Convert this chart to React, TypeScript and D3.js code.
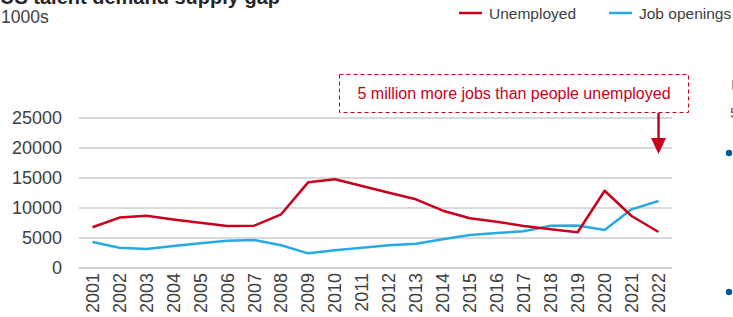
import React, { useEffect, useRef } from "react";
import * as d3 from "d3";

// US talent demand vs supply, thousands
const years = [
  "2001", "2002", "2003", "2004", "2005", "2006", "2007", "2008", "2009", "2010", "2011",
  "2012", "2013", "2014", "2015", "2016", "2017", "2018", "2019", "2020", "2021", "2022",
];
const unemployed = [
  6800, 8400, 8700, 8100, 7550, 7000, 7050, 8950, 14280, 14780, 13670,
  12550, 11450, 9550, 8280, 7720, 7000, 6450, 5950, 12880, 8670, 6000,
];
const jobOpenings = [
  4330, 3390, 3170, 3670, 4110, 4560, 4670, 3780, 2440, 2940, 3390,
  3780, 4050, 4780, 5500, 5830, 6110, 7050, 7080, 6330, 9780, 11170,
];
const yTicks = [0, 5000, 10000, 15000, 20000, 25000];

const RED = "#c8001e";
const BLUE = "#29a9e1";
const FONT = "'Liberation Sans', Arial, sans-serif";

const App = () => {
  const ref = useRef<SVGSVGElement>(null);

  useEffect(() => {
    const svg = d3.select(ref.current);
    svg.selectAll("*").remove();

    const x = d3.scaleBand().domain(years).range([79, 672]);
    const y = d3.scaleLinear().domain([0, 25000]).range([268, 118]);
    const cx = (d: string) => (x(d) as number) + x.bandwidth() / 2;

    // title + unit
    svg.append("text").attr("x", 0).attr("y", 4)
      .attr("font-size", 20).attr("font-weight", "bold").attr("fill", "#262626")
      .text("US talent demand supply gap");
    svg.append("text").attr("x", 1).attr("y", 23)
      .attr("font-size", 17.5).attr("fill", "#404040").text("1000s");

    // gridlines
    svg.append("g").selectAll("line").data(yTicks.filter((t) => t > 0)).enter()
      .append("line")
      .attr("x1", 79).attr("x2", 672)
      .attr("y1", (d) => y(d)).attr("y2", (d) => y(d))
      .attr("stroke", "#d9d9d9").attr("stroke-width", 2);

    // y axis labels
    svg.append("g").selectAll("text").data(yTicks).enter()
      .append("text")
      .attr("x", 62).attr("y", (d) => y(d))
      .attr("dy", "0.35em").attr("text-anchor", "end")
      .attr("font-size", 18).attr("fill", "#404040")
      .text((d) => d);

    // x axis
    svg.append("line").attr("x1", 79).attr("x2", 672)
      .attr("y1", y(0)).attr("y2", y(0))
      .attr("stroke", "#bfbfbf").attr("stroke-width", 1.5);
    svg.append("g").selectAll("text").data(years).enter()
      .append("text")
      .attr("transform", (d) => `translate(${cx(d)},273) rotate(-90)`)
      .attr("dy", "0.35em").attr("text-anchor", "end")
      .attr("font-size", 18).attr("fill", "#404040")
      .text((d) => d);

    // series
    const line = d3.line<number>()
      .x((_, i) => cx(years[i]))
      .y((d) => y(d));
    svg.append("path").attr("d", line(jobOpenings))
      .attr("fill", "none").attr("stroke", BLUE).attr("stroke-width", 2.5)
      .attr("stroke-linejoin", "round");
    svg.append("path").attr("d", line(unemployed))
      .attr("fill", "none").attr("stroke", RED).attr("stroke-width", 2.5)
      .attr("stroke-linejoin", "round");

    // legend
    const legend = [
      { label: "Unemployed", color: RED, x: 459 },
      { label: "Job openings", color: BLUE, x: 609 },
    ];
    legend.forEach((l) => {
      svg.append("line").attr("x1", l.x).attr("x2", l.x + 23)
        .attr("y1", 13).attr("y2", 13)
        .attr("stroke", l.color).attr("stroke-width", 2.5);
      svg.append("text").attr("x", l.x + 30).attr("y", 19)
        .attr("font-size", 15.5).attr("fill", "#404040").text(l.label);
    });

    // annotation
    svg.append("rect").attr("x", 339.5).attr("y", 74.5)
      .attr("width", 349).attr("height", 38)
      .attr("fill", "none").attr("stroke", RED).attr("stroke-width", 1)
      .attr("stroke-dasharray", "4,3");
    svg.append("text").attr("x", 514).attr("y", 99)
      .attr("text-anchor", "middle").attr("font-size", 16).attr("fill", RED)
      .text("5 million more jobs than people unemployed");
    const ax = cx("2022");
    svg.append("line").attr("x1", ax).attr("x2", ax).attr("y1", 113).attr("y2", 140)
      .attr("stroke", RED).attr("stroke-width", 2.5);
    svg.append("path")
      .attr("d", `M${ax - 7.5},138 L${ax + 7.5},138 L${ax},154 Z`)
      .attr("fill", RED);

    // neighbouring panel, cut off at the right edge
    svg.append("text").attr("x", 731).attr("y", 90)
      .attr("font-size", 15).attr("fill", "#595959").text("I");
    svg.append("text").attr("x", 730).attr("y", 118)
      .attr("font-size", 15).attr("fill", "#595959").text("5");
    [153, 292].forEach((cy) => {
      svg.append("circle").attr("cx", 729).attr("cy", cy).attr("r", 3.2).attr("fill", "#005b9f");
    });
  }, []);

  return (
    <svg
      ref={ref}
      width={733}
      height={317}
      style={{ position: "absolute", left: 0, top: 0, fontFamily: FONT, background: "#fff" }}
    />
  );
};

export default App;
